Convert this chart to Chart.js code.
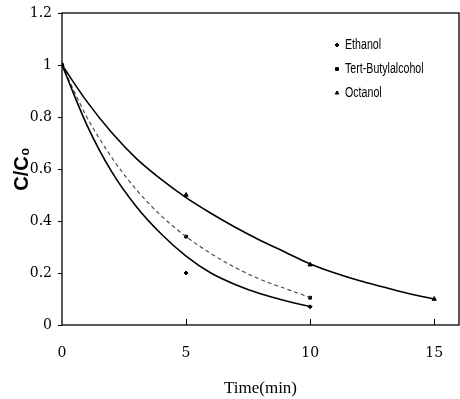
<!DOCTYPE html>
<html>
<head>
<meta charset="utf-8">
<script src="https://cdn.jsdelivr.net/npm/chart.js@4.4.0/dist/chart.umd.min.js"></script>
<style>
html,body{margin:0;padding:0;background:#fff;overflow:hidden;}
#wrap{width:460px;height:399px;position:relative;}
canvas{display:block;}
</style>
</head>
<body>
<div id="wrap"><canvas id="c" width="460" height="399"></canvas></div>
<script>
// Measured points
const seriesNames = ['Ethanol', 'Tert-Butylalcohol', 'Octanol'];
const ethanolTime = [0, 5, 10];
const ethanolValues = [1, 0.2, 0.07];
const tbaTime = [0, 5, 10];
const tbaValues = [1, 0.34, 0.105];
const octanolTime = [0, 5, 10, 15];
const octanolValues = [1, 0.5, 0.232, 0.1];

// Fitted curves
const ethanolCurveTime = [0, 1, 2, 3, 4, 5, 6, 7, 8, 9, 10];
const ethanolCurveValues = [1, 0.77, 0.59, 0.455, 0.35, 0.265, 0.2, 0.155, 0.12, 0.093, 0.071];
const tbaCurveTime = [0, 1, 2, 3, 4, 5, 6, 7, 8, 9, 10];
const tbaCurveValues = [1, 0.8, 0.645, 0.52, 0.42, 0.34, 0.275, 0.22, 0.175, 0.14, 0.106];
const octanolCurveTime = [0, 1, 2, 3, 4, 5, 6, 7, 8, 9, 10, 11, 12, 13, 14, 15];
const octanolCurveValues = [1, 0.86, 0.74, 0.64, 0.56, 0.49, 0.43, 0.375, 0.325, 0.28, 0.235, 0.2, 0.17, 0.145, 0.12, 0.1];

const xTicks = [0, 5, 10, 15];
const yTicks = [0, 0.2, 0.4, 0.6, 0.8, 1, 1.2];
const yTickLabels = ['0', '0.2', '0.4', '0.6', '0.8', '1', '1.2'];

const toXY = (xs, ys) => xs.map((x, i) => ({x: x, y: ys[i]}));
const markers = ['rectRot', 'rect', 'triangle'];

const framePlugin = {
  id: 'frame',
  afterDraw(chart) {
    const {ctx, chartArea: a, scales} = chart;
    ctx.save();
    ctx.strokeStyle = '#000';
    ctx.lineWidth = 1.3;
    ctx.strokeRect(a.left, a.top, a.right - a.left, a.bottom - a.top);
    ctx.lineWidth = 1;
    xTicks.forEach(v => {
      if (v === 0) return;
      const px = Math.round(scales.x.getPixelForValue(v)) + 0.5;
      ctx.beginPath(); ctx.moveTo(px, a.bottom); ctx.lineTo(px, a.bottom - 6); ctx.stroke();
    });
    yTicks.forEach(v => {
      const py = Math.round(scales.y.getPixelForValue(v)) + 0.5;
      ctx.beginPath(); ctx.moveTo(a.left, py); ctx.lineTo(a.left - 4, py); ctx.stroke();
    });
    ctx.font = '14px "Liberation Sans", sans-serif';
    ctx.textBaseline = 'middle';
    ctx.fillStyle = '#000';
    const lx = 337, ly0 = 45, dy = 24;
    seriesNames.forEach((name, i) => {
      const y = ly0 + i * dy;
      Chart.helpers.drawPoint(ctx, {pointStyle: markers[i], radius: 2, borderWidth: 1}, lx, y);
      ctx.fill();
      ctx.save(); ctx.translate(lx + 8, y); ctx.scale(0.76, 1); ctx.fillText(name, 0, 0); ctx.restore();
    });
    ctx.restore();
  }
};

const zeroPad = s => { s.paddingLeft = 0; s.paddingRight = 0; s.paddingTop = 0; s.paddingBottom = 0; };

new Chart(document.getElementById('c'), {
  type: 'scatter',
  data: {
    datasets: [
      {label: seriesNames[0] + ' fit', data: toXY(ethanolCurveTime, ethanolCurveValues), showLine: true, pointRadius: 0, borderColor: '#000', borderWidth: 1.6, cubicInterpolationMode: 'monotone'},
      {label: seriesNames[1] + ' fit', data: toXY(tbaCurveTime, tbaCurveValues), showLine: true, pointRadius: 0, borderColor: '#444', borderWidth: 1.1, borderDash: [4, 3], cubicInterpolationMode: 'monotone'},
      {label: seriesNames[2] + ' fit', data: toXY(octanolCurveTime, octanolCurveValues), showLine: true, pointRadius: 0, borderColor: '#000', borderWidth: 1.6, cubicInterpolationMode: 'monotone'},
      {label: seriesNames[0], data: toXY(ethanolTime, ethanolValues), pointStyle: markers[0], pointRadius: 2, backgroundColor: '#000', borderColor: '#000'},
      {label: seriesNames[1], data: toXY(tbaTime, tbaValues), pointStyle: markers[1], pointRadius: 2, backgroundColor: '#000', borderColor: '#000'},
      {label: seriesNames[2], data: toXY(octanolTime, octanolValues), pointStyle: markers[2], pointRadius: 2.5, backgroundColor: '#000', borderColor: '#000'}
    ]
  },
  options: {
    responsive: false,
    animation: false,
    layout: {autoPadding: false, padding: {top: 13, right: 1, left: 0, bottom: 0}},
    plugins: {legend: {display: false}, tooltip: {enabled: false}},
    scales: {
      x: {
        type: 'linear', min: 0, max: 16,
        afterBuildTicks: s => { s.ticks = xTicks.map(v => ({value: v})); },
        afterFit: s => { s.height = 74; zeroPad(s); },
        grid: {display: false, drawTicks: false},
        border: {display: false},
        ticks: {color: '#000', padding: 20, font: {family: '"DejaVu Serif", serif', size: 14}},
        title: {display: true, text: 'Time(min)', color: '#000', padding: {top: 18, bottom: 0}, font: {family: '"Liberation Serif", serif', size: 17}}
      },
      y: {
        type: 'linear', min: 0, max: 1.2,
        afterBuildTicks: s => { s.ticks = yTicks.map(v => ({value: v})); },
        afterFit: s => { s.width = 62; zeroPad(s); },
        grid: {display: false, drawTicks: false},
        border: {display: false},
        ticks: {color: '#000', padding: 10, font: {family: '"DejaVu Serif", serif', size: 14},
          callback: (v) => { const i = yTicks.indexOf(v); return i >= 0 ? yTickLabels[i] : ''; }},
        title: {display: true, text: 'C/C\u2080', color: '#000', padding: {top: 10, bottom: 0}, font: {family: '"Liberation Sans", sans-serif', size: 20, weight: 'bold'}}
      }
    }
  },
  plugins: [framePlugin]
});
</script>
</body>
</html>
